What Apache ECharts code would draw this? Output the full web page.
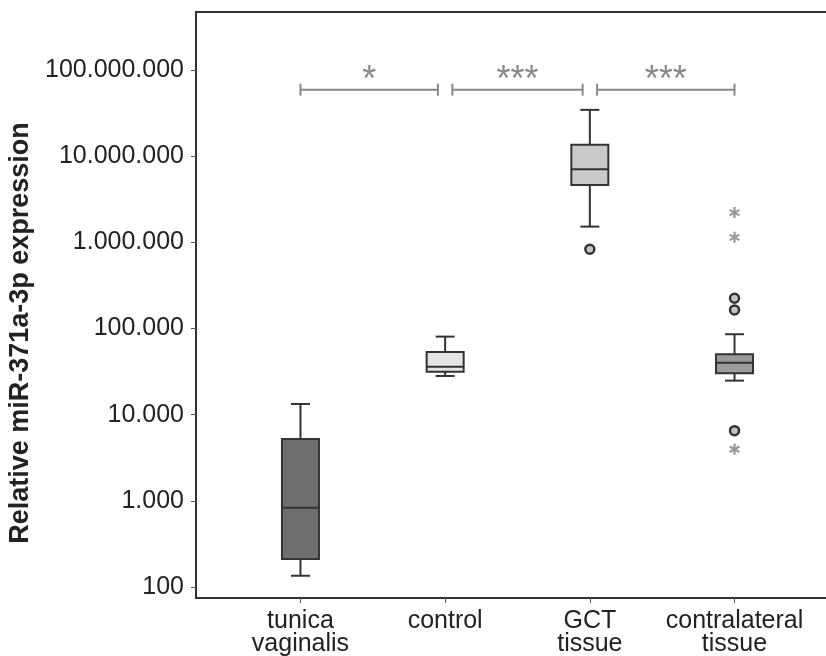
<!DOCTYPE html>
<html>
<head>
<meta charset="utf-8">
<script src="https://cdn.jsdelivr.net/npm/echarts@6/dist/echarts.min.js"></script>
<style>
  html, body { margin: 0; padding: 0; background: #fff; }
  #main { width: 826px; height: 656px; }
</style>
</head>
<body>
<div id="main"></div>
<script>
var categories = ['tunica\nvaginalis', 'control', 'GCT\ntissue', 'contralateral\ntissue'];
var groupPos = [1, 2, 3, 4];
// min, Q1, median, Q3, max
var boxStats = [
  [135, 211, 832, 5200, 13300],
  [28100, 31500, 36000, 53300, 80400],
  [1520000, 4620000, 7030000, 13500000, 34400000],
  [24800, 30200, 40100, 50100, 85700]
];
var circleOutliers = [[3, 830000], [4, 224000], [4, 164000], [4, 6520]];
var starOutliers = [[4, 2210000], [4, 1140000], [4, 3960]];
var brackets = [[1, 1.95, '*'], [2.05, 2.95, '***'], [3.05, 4.0, '***']];
var bracketLevel = 59000000;
var yTicks = [100, 1000, 10000, 100000, 1000000, 10000000, 100000000];

var boxColors = ['#6e6e6e', '#e3e3e3', '#c9c9c9', '#9b9b9b'];
var font = 'Liberation Sans, Arial, sans-serif';
var starPath = 'path://M-1,-5L1,-5L1,5L-1,5Z M3.83,-3.37L4.83,-1.63L-3.83,3.37L-4.83,1.63Z M-4.83,-1.63L-3.83,-3.37L4.83,1.63L3.83,3.37Z';

function dots(v) {
  return String(Math.round(v)).replace(/\B(?=(\d{3})+(?!\d))/g, '.');
}

function renderBox(params, api) {
  var x = api.value(0);
  var p = [1, 2, 3, 4, 5].map(function (i) { return api.coord([x, api.value(i)]); });
  var cx = p[0][0];
  var hw = 18.5, cw = 9.5;
  var st = { stroke: '#333', lineWidth: 2 };
  return {
    type: 'group',
    children: [
      { type: 'line', shape: { x1: cx, y1: p[0][1], x2: cx, y2: p[1][1] }, style: st },
      { type: 'line', shape: { x1: cx, y1: p[3][1], x2: cx, y2: p[4][1] }, style: st },
      { type: 'line', shape: { x1: cx - cw, y1: p[0][1], x2: cx + cw, y2: p[0][1] }, style: st },
      { type: 'line', shape: { x1: cx - cw, y1: p[4][1], x2: cx + cw, y2: p[4][1] }, style: st },
      { type: 'rect', shape: { x: cx - hw, y: p[3][1], width: 2 * hw, height: p[1][1] - p[3][1] },
        style: { fill: boxColors[params.dataIndex], stroke: '#333', lineWidth: 2 } },
      { type: 'line', shape: { x1: cx - hw, y1: p[2][1], x2: cx + hw, y2: p[2][1] }, style: st }
    ]
  };
}

function renderBracket(params, api) {
  var a = api.coord([api.value(0), api.value(2)]);
  var b = api.coord([api.value(1), api.value(2)]);
  var y = a[1];
  var st = { stroke: '#888', lineWidth: 2 };
  return {
    type: 'group',
    children: [
      { type: 'line', shape: { x1: a[0], y1: y, x2: b[0], y2: y }, style: st },
      { type: 'line', shape: { x1: a[0], y1: y - 6, x2: a[0], y2: y + 6 }, style: st },
      { type: 'line', shape: { x1: b[0], y1: y - 6, x2: b[0], y2: y + 6 }, style: st },
      { type: 'text', style: { x: (a[0] + b[0]) / 2, y: y - 9, text: brackets[params.dataIndex][2],
        fill: '#888', font: '36px ' + font, textAlign: 'center', textVerticalAlign: 'middle' } }
    ]
  };
}

var chart = echarts.init(document.getElementById('main'));
chart.setOption({
  animation: false,
  grid: {
    left: 196, top: 12, bottom: 58, right: -3,
    show: true, borderColor: '#333', borderWidth: 2,
    outerBoundsMode: 'none'
  },
  xAxis: {
    type: 'value', min: 0.278, max: 4.653,
    axisLine: { show: false },
    splitLine: { show: false },
    axisTick: { customValues: groupPos, length: 5, lineStyle: { color: '#555', width: 1 } },
    axisLabel: {
      customValues: groupPos, margin: 12, fontSize: 25, lineHeight: 23,
      color: '#222', fontFamily: font,
      formatter: function (v) { return categories[Math.round(v) - 1]; }
    }
  },
  yAxis: {
    type: 'log', min: 74.5, max: 470000000,
    axisLine: { show: false },
    splitLine: { show: false },
    axisTick: { customValues: yTicks, length: 5, lineStyle: { color: '#555', width: 1 } },
    axisLabel: {
      customValues: yTicks, margin: 12, fontSize: 25, color: '#222', fontFamily: font,
      formatter: dots
    }
  },
  graphic: [{
    type: 'text', x: 21, y: 333, rotation: Math.PI / 2,
    style: { text: 'Relative miR-371a-3p expression', font: 'bold 27px ' + font,
      fill: '#222', textAlign: 'center', textVerticalAlign: 'middle' }
  }],
  series: [
    {
      type: 'custom', renderItem: renderBox,
      encode: { x: 0, y: [1, 2, 3, 4, 5] },
      data: boxStats.map(function (s, i) { return [groupPos[i]].concat(s); })
    },
    {
      type: 'custom', renderItem: renderBracket,
      encode: { x: [0, 1], y: 2 },
      data: brackets.map(function (b) { return [b[0], b[1], bracketLevel]; })
    },
    {
      type: 'scatter', data: circleOutliers, symbol: 'circle', symbolSize: 9,
      itemStyle: { color: '#c4c4c4', borderColor: '#333', borderWidth: 2.5, opacity: 1 }
    },
    {
      type: 'scatter', data: starOutliers, symbol: starPath, symbolSize: 11,
      itemStyle: { color: '#999', opacity: 1 }
    }
  ]
});
</script>
</body>
</html>
